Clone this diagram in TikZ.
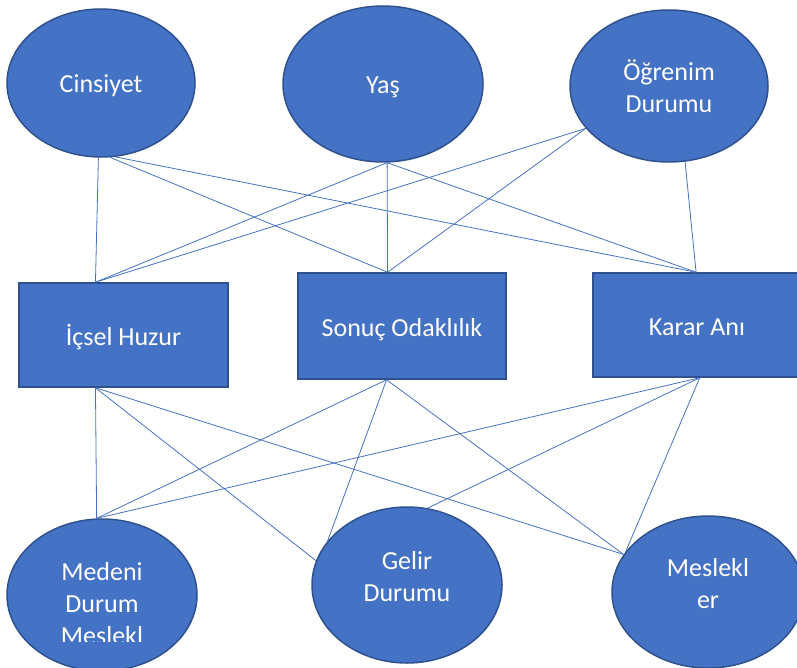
\documentclass[tikz,border=0pt]{standalone}
\usepackage{fontspec}
\setmainfont{Carlito}
\usepackage{tikz}
\usetikzlibrary{shapes.geometric}
\definecolor{fillblue}{HTML}{4472C4}
\definecolor{edgeblue}{HTML}{2F528F}

\begin{document}
\begin{tikzpicture}[
    x=1pt, y=-1pt,
    oval/.style={ellipse, draw=edgeblue, line width=1.5pt, fill=fillblue, inner sep=0pt, text=white, align=center, font=\fontsize{26}{32}\selectfont},
    factor/.style={rectangle, draw=edgeblue, line width=1.5pt, fill=fillblue, minimum width=208pt, text=white, align=center, font=\fontsize{26}{32}\selectfont},
    oneline/.style={text height=25pt, text depth=5pt},
    ovaltext/.style={text=white, align=center, inner sep=0pt, font=\fontsize{26}{32}\selectfont},
    link/.style={draw=fillblue, line width=0.8pt}
  ]
    \useasboundingbox (0,0) rectangle (797,668);
    \clip (0,0) rectangle (797,668);

    \node[oval, oneline, minimum width=188pt, minimum height=148pt] (cins) at (101,83) {Cinsiyet};
    \node[oval, oneline, minimum width=200pt, minimum height=156pt] (yas) at (383,84) {Yaş};
    \node[oval, minimum width=198pt, minimum height=152pt] (ogr) at (669,86) {Öğrenim\\Durumu};

    \node[factor, oneline, minimum width=209pt, minimum height=104pt] (icsel) at (123.5,335) {İçsel Huzur};
    \node[factor, oneline, minimum height=106pt] (sonuc) at (402,326) {Sonuç Odaklılık};
    \node[factor, oneline, minimum height=104pt] (karar) at (697,325) {Karar Anı};

    \node[oval, minimum width=190pt, minimum height=152pt] (medeni) at (102,595) {};
    \node[oval, minimum width=190pt, minimum height=156pt] (gelir) at (407,585) {};
    \node[oval, minimum width=192pt, minimum height=152pt] (meslek) at (708,592) {};

    \begin{scope}
      \clip (0,0) rectangle (797,641);
      \node[ovaltext] (medenitxt) at (102,604) {Medeni\\Durum\\Meslekl};
    \end{scope}
    \node[ovaltext] (gelirtxt) at (407,577) {Gelir\\Durumu};
    \node[ovaltext] (meslektxt) at (708,584) {Meslekl\\er};

    \draw[link] (cins.-92) -- (icsel.118);
    \draw[link] (cins.-83) -- (sonuc.105);
    \draw[link] (cins.-79) -- (karar.91);
    \draw[link] (yas.-87) -- (icsel.118);
    \draw[link] (yas.-87) -- (sonuc.105);
    \draw[link] (yas.-87) -- (karar.91);
    \draw[link] (ogr.-153) -- (icsel.118);
    \draw[link] (ogr.-153) -- (sonuc.105);
    \draw[link] (ogr.-78) -- (karar.91);

    \draw[link] (icsel.-118) -- (medeni.94);
    \draw[link] (icsel.-118) -- (gelir.165);
    \draw[link] (icsel.-118) -- (meslek.156);
    \draw[link] (sonuc.-106) -- (medeni.94);
    \draw[link] (sonuc.-106) -- (gelir.151);
    \draw[link] (sonuc.-106) -- (meslek.156);
    \draw[link] (karar.-87) -- (medeni.94);
    \draw[link] (karar.-87) -- (gelir.75);
    \draw[link] (karar.-87) -- (meslek.154);
  \end{tikzpicture}
\end{document}
